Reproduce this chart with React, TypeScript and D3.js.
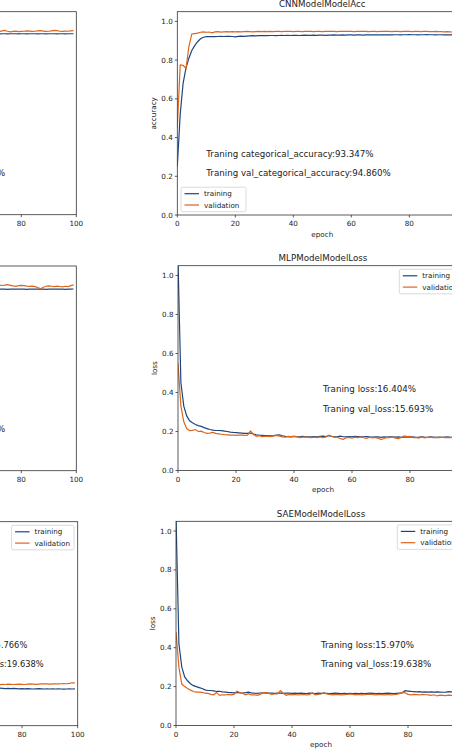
import React from 'react';
import * as d3 from 'd3';

const BLUE = '#1d4680';
const ORANGE = '#dd661c';
const FONT = '"DejaVu Sans", sans-serif';

const epochs = d3.range(0, 100);
const tailEpochs = d3.range(70, 100);
const xTicks = [0, 20, 40, 60, 80, 100];
const yTicks = [0, 0.2, 0.4, 0.6, 0.8, 1.0];

// right column, full history
const cnnAccTrain = [
  0.25, 0.52, 0.68, 0.76, 0.81, 0.85, 0.875, 0.895, 0.91, 0.918,
  0.921, 0.921, 0.922, 0.921, 0.922, 0.923, 0.922, 0.923, 0.923, 0.922,
  0.920, 0.923, 0.924, 0.923, 0.924, 0.925, 0.926, 0.925, 0.926, 0.926,
  0.927, 0.926, 0.927, 0.927, 0.926, 0.927, 0.928, 0.927, 0.928, 0.927,
  0.928, 0.928, 0.927, 0.928, 0.929, 0.928, 0.928, 0.929, 0.928, 0.929,
  0.929, 0.928, 0.929, 0.929, 0.930, 0.929, 0.929, 0.930, 0.929, 0.930,
  0.930, 0.929, 0.930, 0.930, 0.929, 0.930, 0.930, 0.931, 0.930, 0.930,
  0.931, 0.930, 0.930, 0.931, 0.930, 0.931, 0.931, 0.930, 0.931, 0.931,
  0.932, 0.931, 0.931, 0.930, 0.931, 0.931, 0.932, 0.931, 0.931, 0.930,
  0.931, 0.931, 0.930, 0.931, 0.930, 0.930, 0.931, 0.930, 0.930, 0.930,
];
const cnnAccVal = [
  0.45, 0.775, 0.773, 0.757, 0.87, 0.935, 0.937, 0.939, 0.944, 0.946,
  0.944, 0.945, 0.941, 0.946, 0.947, 0.945, 0.946, 0.947, 0.946, 0.947,
  0.946, 0.947, 0.946, 0.947, 0.948, 0.947, 0.946, 0.947, 0.948, 0.947,
  0.948, 0.947, 0.948, 0.947, 0.948, 0.948, 0.947, 0.948, 0.949, 0.948,
  0.947, 0.948, 0.948, 0.947, 0.948, 0.949, 0.948, 0.947, 0.948, 0.948,
  0.947, 0.948, 0.949, 0.948, 0.948, 0.947, 0.948, 0.948, 0.949, 0.948,
  0.948, 0.947, 0.948, 0.948, 0.949, 0.948, 0.947, 0.948, 0.948, 0.947,
  0.948, 0.948, 0.949, 0.948, 0.947, 0.948, 0.948, 0.947, 0.948, 0.949,
  0.948, 0.947, 0.948, 0.948, 0.947, 0.948, 0.948, 0.947, 0.947, 0.948,
  0.947, 0.947, 0.946, 0.947, 0.946, 0.945, 0.946, 0.944, 0.943, 0.943,
];
const mlpLossTrain = [
  1.08, 0.45, 0.33, 0.28, 0.255, 0.245, 0.236, 0.23, 0.226, 0.22,
  0.215, 0.21, 0.207, 0.205, 0.205, 0.204, 0.202, 0.2, 0.197, 0.195,
  0.194, 0.193, 0.192, 0.19, 0.19, 0.192, 0.187, 0.183, 0.181, 0.18,
  0.179, 0.179, 0.178, 0.179, 0.182, 0.183, 0.178, 0.175, 0.174, 0.172,
  0.174, 0.173, 0.172, 0.175, 0.172, 0.173, 0.172, 0.174, 0.173, 0.175,
  0.176, 0.174, 0.178, 0.175, 0.173, 0.174, 0.176, 0.173, 0.172, 0.174,
  0.173, 0.175, 0.174, 0.172, 0.173, 0.174, 0.172, 0.171, 0.173, 0.172,
  0.170, 0.172, 0.171, 0.173, 0.172, 0.171, 0.172, 0.170, 0.171, 0.172,
  0.171, 0.172, 0.170, 0.171, 0.173, 0.171, 0.170, 0.172, 0.171, 0.170,
  0.171, 0.170, 0.171, 0.172, 0.170, 0.171, 0.170, 0.171, 0.170, 0.170,
];
const mlpLossVal = [
  0.55, 0.33, 0.25, 0.215, 0.205, 0.206, 0.21, 0.2, 0.202, 0.195,
  0.19, 0.192, 0.195, 0.19, 0.188, 0.186, 0.184, 0.183, 0.181, 0.182,
  0.18, 0.181, 0.182, 0.18, 0.181, 0.203, 0.186, 0.175, 0.178, 0.174,
  0.175, 0.176, 0.174, 0.177, 0.18, 0.176, 0.172, 0.171, 0.175, 0.174,
  0.176, 0.172, 0.168, 0.171, 0.172, 0.17, 0.168, 0.171, 0.169, 0.172,
  0.168, 0.172, 0.181, 0.175, 0.17, 0.171, 0.163, 0.16, 0.168, 0.17,
  0.166, 0.171, 0.169, 0.172, 0.168, 0.165, 0.171, 0.167, 0.17, 0.165,
  0.159, 0.164, 0.17, 0.168, 0.172, 0.166, 0.164, 0.169, 0.178, 0.174,
  0.175, 0.168, 0.17, 0.166, 0.172, 0.167, 0.17, 0.171, 0.168, 0.17,
  0.169, 0.171, 0.168, 0.17, 0.169, 0.171, 0.17, 0.169, 0.17, 0.171,
];
const saeLossTrain = [
  1.08, 0.42, 0.3, 0.25, 0.23, 0.215, 0.205, 0.2, 0.195, 0.19,
  0.183, 0.18, 0.18, 0.178, 0.175, 0.176, 0.173, 0.172, 0.17, 0.169,
  0.168, 0.17, 0.168, 0.167, 0.169, 0.172, 0.168, 0.166, 0.165, 0.167,
  0.168, 0.166, 0.167, 0.166, 0.165, 0.167, 0.166, 0.165, 0.166, 0.166,
  0.165, 0.166, 0.165, 0.166, 0.165, 0.164, 0.166, 0.165, 0.164, 0.166,
  0.165, 0.166, 0.165, 0.164, 0.165, 0.166, 0.165, 0.164, 0.165, 0.164,
  0.165, 0.164, 0.165, 0.164, 0.165, 0.164, 0.165, 0.166, 0.165, 0.164,
  0.165, 0.164, 0.165, 0.166, 0.165, 0.164, 0.165, 0.166, 0.167, 0.179,
  0.177, 0.175, 0.174, 0.173, 0.174, 0.172, 0.173, 0.172, 0.173, 0.172,
  0.173, 0.172, 0.171, 0.172, 0.174, 0.173, 0.172, 0.171, 0.172, 0.171,
];
const saeLossVal = [
  0.48, 0.3, 0.213, 0.2, 0.19, 0.182, 0.175, 0.172, 0.172, 0.17,
  0.166, 0.165, 0.16, 0.158, 0.17, 0.155, 0.158, 0.157, 0.16, 0.158,
  0.16, 0.176, 0.17, 0.165, 0.158, 0.164, 0.157, 0.158, 0.155, 0.16,
  0.168, 0.17, 0.165, 0.16, 0.162, 0.163, 0.18, 0.166, 0.155, 0.16,
  0.158, 0.16, 0.157, 0.158, 0.16, 0.157, 0.158, 0.168, 0.158, 0.16,
  0.162, 0.168, 0.163, 0.16, 0.158, 0.16, 0.159, 0.157, 0.158, 0.16,
  0.162, 0.16, 0.158, 0.16, 0.157, 0.158, 0.16, 0.161, 0.159, 0.158,
  0.16, 0.159, 0.158, 0.16, 0.157, 0.158, 0.16, 0.164, 0.17, 0.168,
  0.16, 0.158, 0.16, 0.159, 0.157, 0.16, 0.158, 0.157, 0.155, 0.158,
  0.152, 0.156, 0.155, 0.154, 0.156, 0.155, 0.152, 0.156, 0.155, 0.156,
];

// left column, only the tail (epochs 70..99) is inside the picture
const leftAccTrainA = [
  0.936, 0.936, 0.935, 0.936, 0.936, 0.935, 0.936, 0.936, 0.936, 0.935,
  0.936, 0.936, 0.935, 0.936, 0.936, 0.936, 0.935, 0.936, 0.936, 0.935,
  0.936, 0.936, 0.936, 0.935, 0.936, 0.936, 0.935, 0.936, 0.936, 0.936,
];
const leftAccValA = [
  0.95, 0.948, 0.947, 0.951, 0.953, 0.949, 0.946, 0.948, 0.949, 0.947,
  0.948, 0.949, 0.951, 0.95, 0.948, 0.949, 0.951, 0.952, 0.95, 0.948,
  0.949, 0.951, 0.953, 0.952, 0.949, 0.948, 0.95, 0.949, 0.951, 0.952,
];
const leftAccTrainB = [
  0.931, 0.931, 0.932, 0.931, 0.931, 0.930, 0.931, 0.931, 0.932, 0.931,
  0.931, 0.931, 0.930, 0.931, 0.931, 0.931, 0.932, 0.931, 0.931, 0.930,
  0.931, 0.931, 0.931, 0.932, 0.931, 0.931, 0.930, 0.931, 0.931, 0.932,
];
const leftAccValB = [
  0.948, 0.951, 0.953, 0.95, 0.952, 0.954, 0.951, 0.948, 0.946, 0.949,
  0.951, 0.949, 0.947, 0.946, 0.947, 0.944, 0.94, 0.933, 0.941, 0.946,
  0.948, 0.946, 0.944, 0.947, 0.945, 0.943, 0.946, 0.944, 0.949, 0.953,
];
const leftLossTrainC = [
  0.193, 0.192, 0.193, 0.192, 0.191, 0.192, 0.191, 0.192, 0.191, 0.19,
  0.191, 0.19, 0.191, 0.19, 0.189, 0.19, 0.191, 0.19, 0.189, 0.19,
  0.189, 0.19, 0.189, 0.19, 0.189, 0.188, 0.189, 0.19, 0.189, 0.19,
];
const leftLossValC = [
  0.211, 0.212, 0.211, 0.213, 0.212, 0.214, 0.213, 0.212, 0.213, 0.214,
  0.213, 0.212, 0.214, 0.215, 0.214, 0.213, 0.214, 0.215, 0.216, 0.215,
  0.214, 0.215, 0.216, 0.215, 0.216, 0.217, 0.216, 0.218, 0.221, 0.22,
];

type Note = { x: number; y: number; text: string };

interface PanelProps {
  id: string;
  x0: number;
  x1: number;
  top: number;
  bottom: number;
  title?: string;
  yLabel: string;
  xs: number[];
  train: number[];
  val: number[];
  notes: Note[];
  legend: 'lower left' | 'upper right' | null;
  noteSize: number;
}

const Panel: React.FC<PanelProps> = ({
  id, x0, x1, top, bottom, title, yLabel, xs, train, val, notes, legend, noteSize,
}) => {
  const x = d3.scaleLinear().domain([0, 100]).range([x0, x1]);
  const y = d3.scaleLinear().domain([0, 1.05]).range([bottom, top]);
  const line = d3.line<number>().x((_, i) => x(xs[i])).y(d => y(d));
  const mid = (top + bottom) / 2;

  const lw = 65 * (x1 - x0) / 290;
  const lh = 24.5;
  const lx = legend === 'lower left' ? x0 + 3.7 : x1 - 3.7 - lw;
  const ly = legend === 'lower left' ? bottom - 3.3 - lh : top + 3.6;

  return (
    <g fontFamily={FONT}>
      <defs>
        <clipPath id={id}>
          <rect x={x0} y={top} width={x1 - x0} height={bottom - top} />
        </clipPath>
      </defs>
      <g clipPath={`url(#${id})`}>
        <path d={line(train) || ''} fill="none" stroke={BLUE} strokeWidth={1.2} />
        <path d={line(val) || ''} fill="none" stroke={ORANGE} strokeWidth={1.2} />
      </g>
      <rect x={x0} y={top} width={x1 - x0} height={bottom - top} fill="none" stroke="#333" strokeWidth={0.8} />

      {xTicks.map(t => (
        <g key={`x${t}`} transform={`translate(${x(t)},${bottom})`}>
          <line y2={2.5} stroke="#333" strokeWidth={0.8} />
          <text y={11} textAnchor="middle" fontSize={7.2} fill="#222">{t}</text>
        </g>
      ))}
      {yTicks.map(t => (
        <g key={`y${t}`} transform={`translate(${x0},${y(t)})`}>
          <line x2={-2.5} stroke="#333" strokeWidth={0.8} />
          <text x={-4.5} dy="0.35em" textAnchor="end" fontSize={7.2} fill="#222">{d3.format('.1f')(t)}</text>
        </g>
      ))}
      <text x={(x0 + x1) / 2} y={bottom + 21.5} textAnchor="middle" fontSize={7.2} fill="#222">epoch</text>
      <text transform={`translate(${x0 - 21.5},${mid}) rotate(-90)`} textAnchor="middle" fontSize={7.2} fill="#222">{yLabel}</text>
      {title && (
        <text x={(x0 + x1) / 2} y={top - 4.5} textAnchor="middle" fontSize={8.7} fill="#222">{title}</text>
      )}

      {notes.map((n, i) => (
        <text key={i} x={x(n.x)} y={y(n.y)} fontSize={noteSize} fill="#222">{n.text}</text>
      ))}

      {legend && (
        <g transform={`translate(${lx},${ly})`}>
          <rect width={lw} height={lh} rx={1.5} fill="#fff" fillOpacity={0.8} stroke="#ccc" strokeWidth={0.7} />
          {[['training', BLUE], ['validation', ORANGE]].map(([label, c], i) => (
            <g key={label} transform={`translate(0,${6.5 + i * 11.3})`}>
              <line x1={3.5} x2={18} stroke={c} strokeWidth={1.2} />
              <text x={23} dy="0.35em" fontSize={7.2} fill="#222">{label}</text>
            </g>
          ))}
        </g>
      )}
    </g>
  );
};

const W = 452;
const H = 755;

export default function App() {
  return (
    <svg width={W} height={H} style={{ position: 'absolute', left: 0, top: 0, background: '#fff' }}>
      {/* right column */}
      <Panel id="c1" x0={177.3} x1={467.3} top={11.7} bottom={215} title="CNNModelModelAcc" yLabel="accuracy"
        xs={epochs} train={cnnAccTrain} val={cnnAccVal} legend="lower left" noteSize={8.7}
        notes={[
          { x: 10, y: 0.3, text: 'Traning categorical_accuracy:93.347%' },
          { x: 10, y: 0.2, text: 'Traning val_categorical_accuracy:94.860%' },
        ]} />
      <Panel id="c2" x0={178} x1={468} top={265.7} bottom={470.5} title="MLPModelModelLoss" yLabel="loss"
        xs={epochs} train={mlpLossTrain} val={mlpLossVal} legend="upper right" noteSize={8.7}
        notes={[
          { x: 50, y: 0.4, text: 'Traning loss:16.404%' },
          { x: 50, y: 0.3, text: 'Traning val_loss:15.693%' },
        ]} />
      <Panel id="c3" x0={176} x1={466} top={521.3} bottom={725.5} title="SAEModelModelLoss" yLabel="loss"
        xs={epochs} train={saeLossTrain} val={saeLossVal} legend="upper right" noteSize={8.7}
        notes={[
          { x: 50, y: 0.4, text: 'Traning loss:15.970%' },
          { x: 50, y: 0.3, text: 'Traning val_loss:19.638%' },
        ]} />

      {/* left column, mostly outside the frame */}
      <Panel id="l1" x0={-198.7} x1={76.3} top={11.7} bottom={214.7} yLabel="accuracy"
        xs={tailEpochs} train={leftAccTrainA} val={leftAccValA} legend={null} noteSize={8.3}
        notes={[
          { x: 10, y: 0.3, text: 'Traning categorical_accuracy:93.617%' },
          { x: 10, y: 0.2, text: 'Traning val_categorical_accuracy:94.997%' },
        ]} />
      <Panel id="l2" x0={-198.7} x1={76.3} top={266} bottom={470.7} yLabel="accuracy"
        xs={tailEpochs} train={leftAccTrainB} val={leftAccValB} legend={null} noteSize={8.3}
        notes={[
          { x: 10, y: 0.3, text: 'Traning categorical_accuracy:93.104%' },
          { x: 10, y: 0.2, text: 'Traning val_categorical_accuracy:95.297%' },
        ]} />
      <Panel id="l3" x0={-200.8} x1={77.7} top={521.7} bottom={725.7} yLabel="loss"
        xs={tailEpochs} train={leftLossTrainC} val={leftLossValC} legend="upper right" noteSize={8.3}
        notes={[
          { x: 50, y: 0.4, text: 'Traning loss:15.766%' },
          { x: 50, y: 0.3, text: 'Traning val_loss:19.638%' },
        ]} />
    </svg>
  );
}
